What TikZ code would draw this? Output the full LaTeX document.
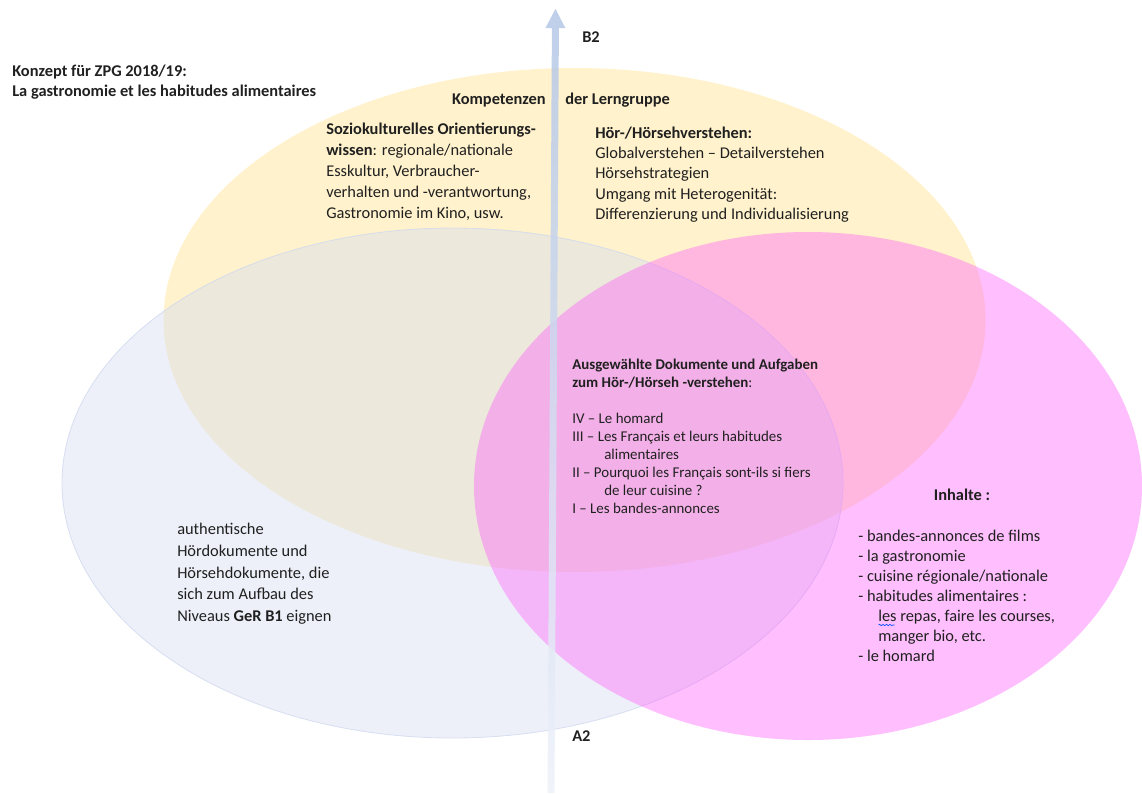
\documentclass[tikz,border=0pt]{standalone}
\usepackage{fontspec}
\setmainfont{Carlito}
\usetikzlibrary{calc,decorations.pathmorphing}
\definecolor{yel}{HTML}{FFF2CC}
\definecolor{blu}{HTML}{D7DEF0}
\definecolor{bluline}{HTML}{CFD8EE}
\definecolor{pnk}{HTML}{FF62FA}
\definecolor{arrtop}{HTML}{B4C7E7}
\definecolor{arrmid}{HTML}{D2DCF0}
\definecolor{arrbot}{HTML}{EEF1F9}
\definecolor{txt}{HTML}{202020}
\begin{document}
\begin{tikzpicture}[x=0.75pt,y=-0.75pt,
  every node/.style={inner sep=0pt, text=txt},
  blk/.style={anchor=base west, align=left},
  body/.style={blk, font=\fontsize{12.3}{#1}\selectfont},
  small/.style={blk, font=\fontsize{11.2}{13.5}\selectfont},
  head/.style={font=\fontsize{12.3}{14}\selectfont\bfseries},
  title/.style={blk, font=\fontsize{12.3}{15}\selectfont\bfseries}]
\useasboundingbox (0,0) rectangle (1142,793);

% ellipses
\fill[yel] (574.5,320) ellipse [x radius=411, y radius=252];
\fill[blu, fill opacity=0.45] (452.5,483) ellipse [x radius=390.5, y radius=255];
\draw[bluline, line width=0.6pt, draw opacity=0.8] (452.5,483) ellipse [x radius=390.5, y radius=255];
\fill[pnk, fill opacity=0.415] (808,486) ellipse [x radius=334, y radius=254];

% axis arrow
\coordinate (a2) at (551,793);
\coordinate (b2) at (555.5,9);
\shade[top color=arrtop, middle color=arrmid, bottom color=arrbot, fill opacity=0.85]
  ($(a2)+(-3.5,0)$) -- (551.9,28) -- (545.4,28) -- (b2) -- (565.4,28) -- (558.9,28) -- ($(a2)+(3.5,0)$) -- cycle;

% labels (base anchor = baseline of the last line)
\node[title] (ttl) at (12,96) {Konzept für ZPG 2018/19:\\La gastronomie et les habitudes alimentaires};
\node[head, anchor=base west] (lb2) at (582,42.5) {B2};
\node[head, anchor=base west] (la2) at (572,741.5) {A2};
\node[head, anchor=base east] (komp) at (546,104.5) {Kompetenzen};
\node[head, anchor=base west] (lern) at (565,104.5) {der Lerngruppe};

\node[body=15.75] (sozio) at (326,218.5) {\textbf{Soziokulturelles Orientierungs-}\\\textbf{wissen}: regionale/nationale\\Esskultur, Verbraucher-\\verhalten und -verantwortung,\\Gastronomie im Kino, usw.};
\node[body=15.2] (hoer) at (595,219.5) {\textbf{Hör-/Hörsehverstehen:}\\Globalverstehen – Detailverstehen\\Hörsehstrategien\\Umgang mit Heterogenität:\\Differenzierung und Individualisierung};

\node[small] (docs) at (572,513) {\textbf{Ausgewählte Dokumente und Aufgaben}\\\textbf{zum Hör-/Hörseh -verstehen}:\\[13.5pt]IV – Le homard\\III – Les Français et leurs habitudes\\\hspace*{24pt}alimentaires\\II – Pourquoi les Français sont-ils si fiers\\\hspace*{24pt}de leur cuisine ?\\I – Les bandes-annonces};

\node[head, anchor=base] (inh) at (962,500.5) {Inhalte :};
\node[body=15] (list) at (858,661.5) {- bandes-annonces de films\\- la gastronomie\\- cuisine régionale/nationale\\- habitudes alimentaires :\\\hspace*{15pt}les repas, faire les courses,\\\hspace*{15pt}manger bio, etc.\\- le homard};
\draw[blue!70!cyan, line width=0.5pt, decorate, decoration={snake, amplitude=0.5pt, segment length=2.6pt}] (878.5,625) -- (894.5,625);

\node[body=16.3] (auth) at (177,621.5) {authentische\\Hördokumente und\\Hörsehdokumente, die\\sich zum Aufbau des\\Niveaus \textbf{GeR B1} eignen};
\end{tikzpicture}
\end{document}
